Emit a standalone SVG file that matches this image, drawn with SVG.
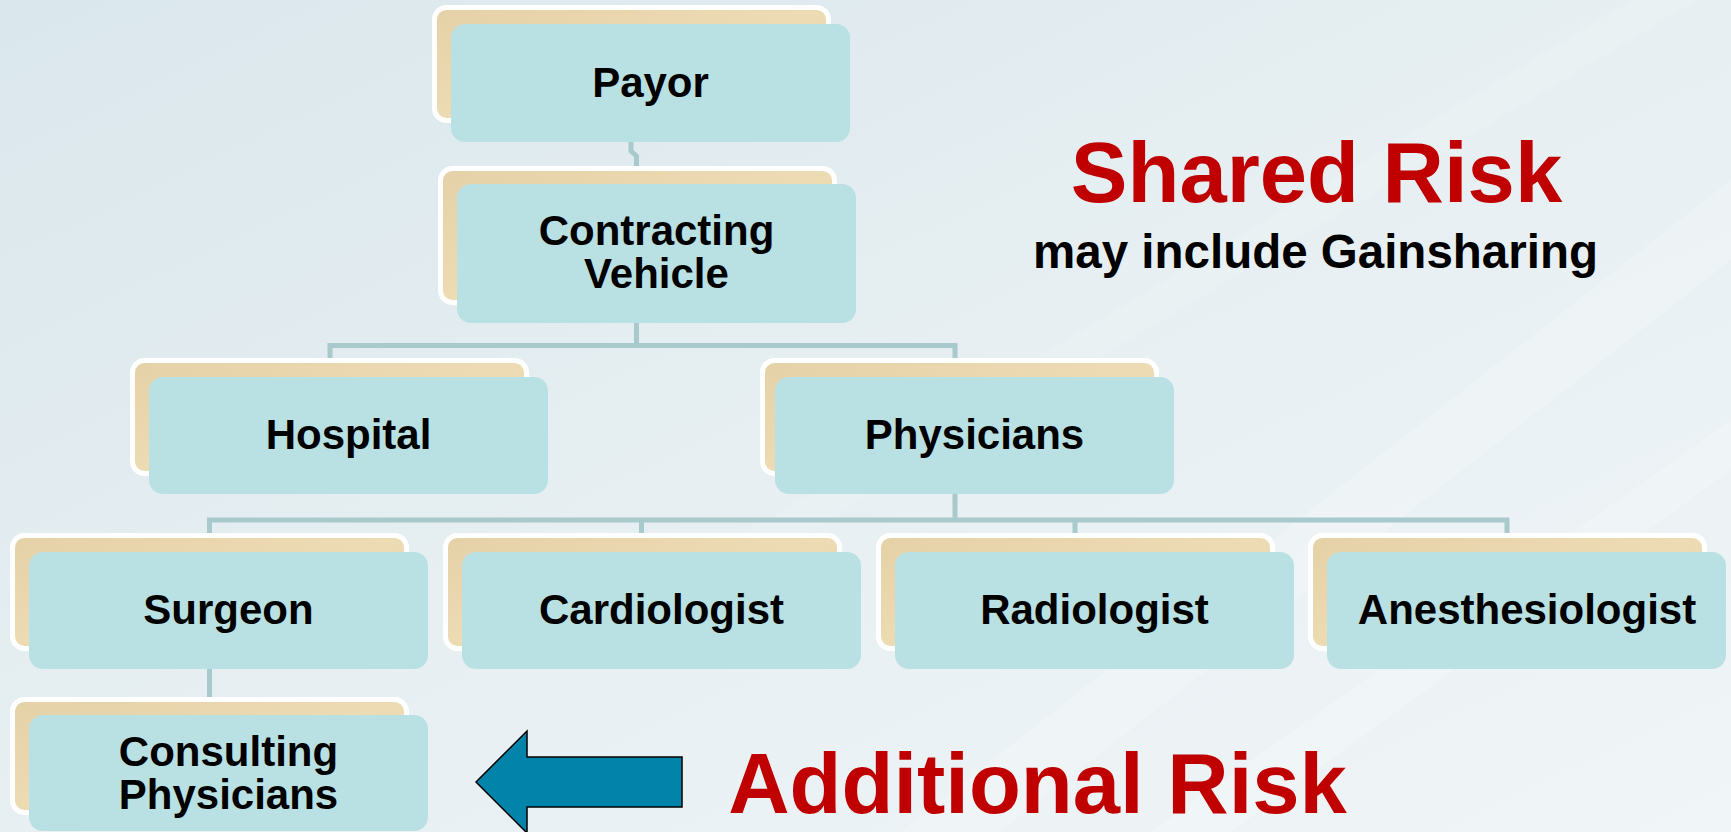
<svg xmlns="http://www.w3.org/2000/svg" width="1731" height="832" viewBox="0 0 1731 832">
  <defs>
    <linearGradient id="bg" x1="0" y1="0" x2="1" y2="1">
      <stop offset="0" stop-color="#dae7ec"/>
      <stop offset="0.5" stop-color="#e7eff2"/>
      <stop offset="1" stop-color="#f0f5f7"/>
    </linearGradient>
    <linearGradient id="tan" x1="0" y1="0" x2="1" y2="1">
      <stop offset="0" stop-color="#e5d1a7"/>
      <stop offset="0.5" stop-color="#eddbb4"/>
      <stop offset="1" stop-color="#e8d5ac"/>
    </linearGradient>
    <style>
      .back { fill: url(#tan); stroke: #ffffff; stroke-width: 5; }
      .front { fill: #b9e0e3; }
      .lbl { font-family: "Liberation Sans", Arial, sans-serif; font-weight: bold; font-size: 42px; fill: #000000; text-anchor: middle; }
      .conn { fill: none; stroke: #a8cacd; stroke-width: 5; }
      .red { font-family: "Liberation Sans", Arial, sans-serif; font-weight: bold; fill: #c00000; text-anchor: middle; }
      .sub { font-family: "Liberation Sans", Arial, sans-serif; font-weight: bold; fill: #000000; text-anchor: middle; }
    </style>
  </defs>

  <rect width="1731" height="832" fill="url(#bg)"/>
  <g id="streaks" fill="#ffffff" opacity="0.2">
    <path d="M900,832 L1731,180 L1731,260 L1000,832 Z"/>
    <path d="M1150,832 L1731,420 L1731,470 L1230,832 Z"/>
    <path d="M700,560 L1731,-60 L1731,-20 L760,560 Z" opacity="0.6"/>
  </g>

  <g id="connectors">
    <path class="conn" d="M631,142 V151 L636.5,156 V166"/>
    <path class="conn" d="M636.5,323 V345.5 M330,358 V345.5 H955 V358"/>
    <path class="conn" d="M955,494 V520 M209.5,533 V520 H1507 V533 M641.5,520 V533 M1075,520 V533"/>
    <path class="conn" d="M209.5,669 V697"/>
  </g>

  <g id="payor">
    <rect class="back" x="434.5" y="7.5" width="394" height="113" rx="12"/>
    <rect class="front" x="451" y="24" width="399" height="118" rx="14"/>
    <text class="lbl" x="650.5" y="97">Payor</text>
  </g>

  <g id="contracting-vehicle">
    <rect class="back" x="440.5" y="168.5" width="394" height="134" rx="12"/>
    <rect class="front" x="457" y="184" width="399" height="139" rx="14"/>
    <text class="lbl" x="656.5" y="245">Contracting</text>
    <text class="lbl" x="656.5" y="288">Vehicle</text>
  </g>

  <g id="hospital">
    <rect class="back" x="132.5" y="360.5" width="394" height="113" rx="12"/>
    <rect class="front" x="149" y="377" width="399" height="117" rx="14"/>
    <text class="lbl" x="348.5" y="449">Hospital</text>
  </g>

  <g id="physicians">
    <rect class="back" x="762.5" y="360.5" width="394" height="113" rx="12"/>
    <rect class="front" x="775" y="377" width="399" height="117" rx="14"/>
    <text class="lbl" x="974.5" y="449">Physicians</text>
  </g>

  <g id="surgeon">
    <rect class="back" x="12.5" y="535.5" width="394" height="113" rx="12"/>
    <rect class="front" x="29" y="552" width="399" height="117" rx="14"/>
    <text class="lbl" x="228.5" y="624">Surgeon</text>
  </g>

  <g id="cardiologist">
    <rect class="back" x="445.5" y="535.5" width="394" height="113" rx="12"/>
    <rect class="front" x="462" y="552" width="399" height="117" rx="14"/>
    <text class="lbl" x="661.5" y="624">Cardiologist</text>
  </g>

  <g id="radiologist">
    <rect class="back" x="878.5" y="535.5" width="394" height="113" rx="12"/>
    <rect class="front" x="895" y="552" width="399" height="117" rx="14"/>
    <text class="lbl" x="1094.5" y="624">Radiologist</text>
  </g>

  <g id="anesthesiologist">
    <rect class="back" x="1310.5" y="535.5" width="394" height="113" rx="12"/>
    <rect class="front" x="1327" y="552" width="399" height="117" rx="14"/>
    <text class="lbl" x="1527" y="624">Anesthesiologist</text>
  </g>

  <g id="consulting-physicians">
    <rect class="back" x="12.5" y="699.5" width="394" height="113" rx="12"/>
    <rect class="front" x="29" y="715" width="399" height="116" rx="14"/>
    <text class="lbl" x="228.5" y="766">Consulting</text>
    <text class="lbl" x="228.5" y="809">Physicians</text>
  </g>

  <g id="arrow">
    <path d="M476,782 L527,731 V757 H682 V807 H527 V833 Z" fill="#0284aa" stroke="#000000" stroke-width="1.5" stroke-linejoin="miter"/>
  </g>

  <g id="labels">
    <text class="red" x="1316.5" y="202" font-size="85">Shared Risk</text>
    <text class="sub" x="1315.5" y="268" font-size="47.5">may include Gainsharing</text>
    <text class="red" x="1037.5" y="813" font-size="85">Additional Risk</text>
  </g>
</svg>
